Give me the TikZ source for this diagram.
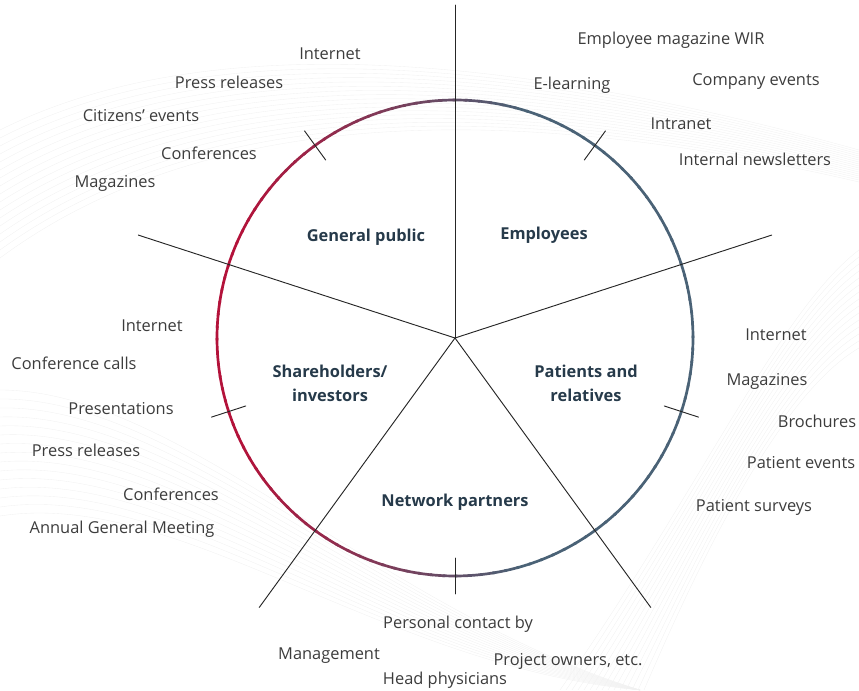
\documentclass[tikz,border=0pt]{standalone}
\usepackage{fontspec}
\setmainfont{Open Sans}
\usepackage{tkz-euclide}
\definecolor{crimson}{HTML}{B3123A}
\definecolor{slate}{HTML}{4A6276}
\definecolor{inkgray}{HTML}{3C3C3C}
\definecolor{labelblue}{HTML}{263A4A}
\tikzset{
    channel/.style = {font=\fontsize{14}{17}\selectfont, text=inkgray,
        inner sep=0pt, text height=0.7em, text depth=0pt, yshift=-0.06cm},
    group/.style = {font=\bfseries\fontsize{14}{20.4}\selectfont,
        text=labelblue, align=center, inner sep=0pt},
    wave/.style = {gray!11, line width=0.3pt},
}

\begin{document}
\begin{tikzpicture}[x=0.03cm, y=0.03cm]
    \useasboundingbox (0,0) rectangle (859,690);
    % faint background lines
    \foreach \k in {0,...,16}
        \draw[wave] (0,560-8*\k) .. controls (200,660-5*\k) and (500,640-3*\k) .. (859,540-2*\k);
    \foreach \k in {0,...,14}
        \draw[wave] (0,300-9*\k) .. controls (180,300-7*\k) and (380,80-4*\k) .. (640,0);
    \foreach \k in {0,...,14}
        \draw[wave] (560+6*\k,0) .. controls (700,200-5*\k) and (780,380-6*\k) .. (859,440-7*\k);

    \tkzDefPoints{455/352/O}
    \tkzDefShiftPoint[O](90:333){A}
    \tkzDefShiftPoint[O](18:333){B}
    \tkzDefShiftPoint[O](-54:333){C}
    \tkzDefShiftPoint[O](234:333){D}
    \tkzDefShiftPoint[O](162:333){E}
    \tkzDefShiftPoint[O](54:220){a}
    \tkzDefShiftPoint[O](54:256){a'}
    \tkzDefShiftPoint[O](-18:220){b}
    \tkzDefShiftPoint[O](-18:256){b'}
    \tkzDefShiftPoint[O](270:220){c}
    \tkzDefShiftPoint[O](270:256){c'}
    \tkzDefShiftPoint[O](198:220){d}
    \tkzDefShiftPoint[O](198:256){d'}
    \tkzDefShiftPoint[O](126:220){e}
    \tkzDefShiftPoint[O](126:256){e'}

    % ring, red on the left turning to slate on the right
    \foreach \a in {0,3,...,357} {
        \pgfmathtruncatemacro\mix{max(0,min(100,(238*cos(\a+1.5)+215)/2.8))}
        \draw[slate!\mix!crimson, line width=2.3pt]
            (O) ++(\a:238) arc[start angle=\a, end angle=\a+3.6, radius=238];
    }
    \tkzDrawSegments[line width=0.8pt, black!85](O,A O,B O,C O,D O,E)
    \tkzDrawSegments[line width=0.8pt, black!85](a,a' b,b' c,c' d,d' e,e')

    \node[group] (public) at (366,453) {General public};
    \node[group] (staff) at (544,455) {Employees};
    \node[group] (investors) at (330,307) {Shareholders/\\investors};
    \node[group] (patients) at (586,307) {Patients and\\relatives};
    \node[group] (partners) at (455,188) {Network partners};

    \node[channel] (pubNet) at (330,637) {Internet};
    \node[channel] (pubPress) at (229,608) {Press releases};
    \node[channel] (pubCitizens) at (141,575) {Citizens’ events};
    \node[channel] (pubConf) at (209,537) {Conferences};
    \node[channel] (pubMag) at (115,509) {Magazines};

    \node[channel] (empWir) at (671,652) {Employee magazine WIR};
    \node[channel] (empLearn) at (572,607) {E-learning};
    \node[channel] (empEvents) at (756,611) {Company events};
    \node[channel] (empIntra) at (681,567) {Intranet};
    \node[channel] (empNews) at (755,531) {Internal newsletters};

    \node[channel] (invNet) at (152,365) {Internet};
    \node[channel] (invCalls) at (74,327) {Conference calls};
    \node[channel] (invPres) at (121,282) {Presentations};
    \node[channel] (invPress) at (86,240) {Press releases};
    \node[channel] (invConf) at (171,196) {Conferences};
    \node[channel] (invAgm) at (122,163) {Annual General Meeting};

    \node[channel] (patNet) at (776,356) {Internet};
    \node[channel] (patMag) at (767,311) {Magazines};
    \node[channel] (patBroch) at (817,269) {Brochures};
    \node[channel] (patEvents) at (801,228) {Patient events};
    \node[channel] (patSurvey) at (754,185) {Patient surveys};

    \node[channel] (netContact) at (458,68) {Personal contact by};
    \node[channel] (netMgmt) at (329,37) {Management};
    \node[channel] (netOwners) at (568,31) {Project owners, etc.};
    \node[channel] (netHead) at (445,12) {Head physicians};
\end{tikzpicture}
\end{document}
